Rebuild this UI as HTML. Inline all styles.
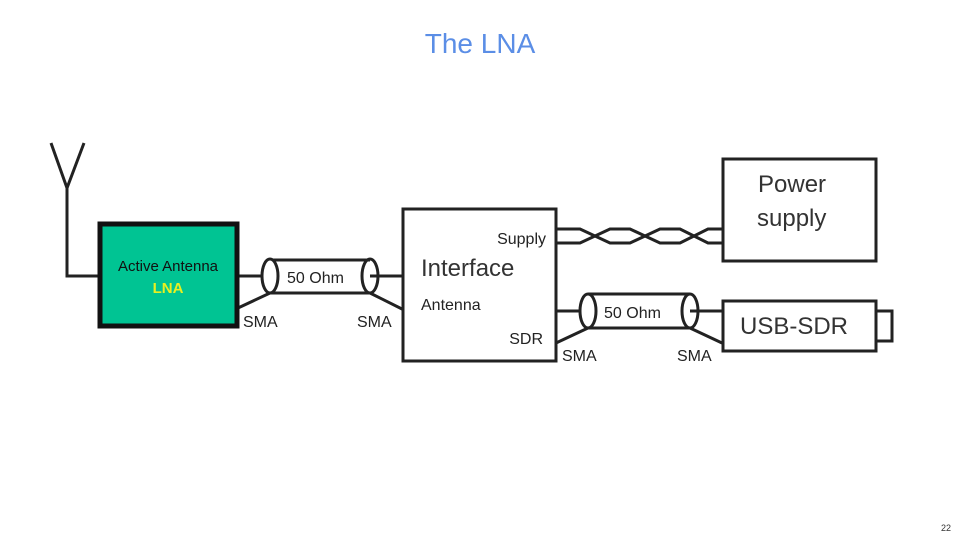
<!DOCTYPE html>
<html><head><meta charset="utf-8"><style>
body{margin:0;background:#fff;width:960px;height:540px;overflow:hidden;font-family:"Liberation Sans",sans-serif}
</style></head><body>
<svg width="960" height="540" viewBox="0 0 960 540" xmlns="http://www.w3.org/2000/svg" font-family="Liberation Sans, sans-serif">
<text x="480" y="53" text-anchor="middle" font-size="28" fill="#5b8ee6">The LNA</text>
<text x="946" y="531" text-anchor="middle" font-size="9" fill="#333">22</text>
<g stroke="#222" fill="none" stroke-width="3">
<polyline points="51,143 67,188 84,143"/>
<polyline points="67,188 67,276 100,276"/>
<line x1="238" y1="276" x2="270" y2="276"/>
<line x1="370" y1="276" x2="404" y2="276"/>
<line x1="270" y1="260" x2="370" y2="260"/>
<line x1="270" y1="293" x2="370" y2="293"/>
<ellipse cx="270" cy="276" rx="8" ry="17" fill="#fff"/>
<ellipse cx="370" cy="276" rx="8" ry="17"/>
<line x1="270" y1="293" x2="238" y2="308"/>
<line x1="370" y1="293" x2="404" y2="310"/>
<rect x="403" y="209" width="153" height="152" fill="#fff"/>
<path d="M556,229 H580 L610,243 L630,243 L660,229 H680 L708,243 H722"/>
<path d="M556,243 H580 L610,229 L630,229 L660,243 H680 L708,229 H722"/>
<rect x="723" y="159" width="153" height="102" fill="#fff"/>
<line x1="556" y1="311" x2="588" y2="311"/>
<line x1="690" y1="311" x2="722" y2="311"/>
<line x1="588" y1="294" x2="690" y2="294"/>
<line x1="588" y1="328" x2="690" y2="328"/>
<ellipse cx="588" cy="311" rx="8" ry="17" fill="#fff"/>
<ellipse cx="690" cy="311" rx="8" ry="17"/>
<line x1="588" y1="328" x2="556" y2="343"/>
<line x1="690" y1="328" x2="722" y2="343"/>
<rect x="723" y="301" width="153" height="50" fill="#fff"/>
<rect x="876" y="311" width="16" height="30"/>
</g>
<rect x="100" y="224" width="137" height="102" fill="#00c493" stroke="#111" stroke-width="5"/>
<text x="168" y="271" text-anchor="middle" font-size="15" fill="#111">Active Antenna</text>
<text x="168" y="293" text-anchor="middle" font-size="15" font-weight="bold" fill="#e8f020">LNA</text>
<g fill="#222" font-size="16">
<text x="287" y="283">50 Ohm</text>
<text x="604" y="318">50 Ohm</text>
<text x="243" y="327">SMA</text>
<text x="357" y="327">SMA</text>
<text x="562" y="361">SMA</text>
<text x="677" y="361">SMA</text>
<text x="546" y="244" text-anchor="end">Supply</text>
<text x="421" y="310">Antenna</text>
<text x="543" y="344" text-anchor="end">SDR</text>
</g>
<g fill="#333" font-size="24">
<text x="421" y="276">Interface</text>
<text x="758" y="192">Power</text>
<text x="757" y="226">supply</text>
<text x="740" y="334">USB-SDR</text>
</g>
</svg>
</body></html>
